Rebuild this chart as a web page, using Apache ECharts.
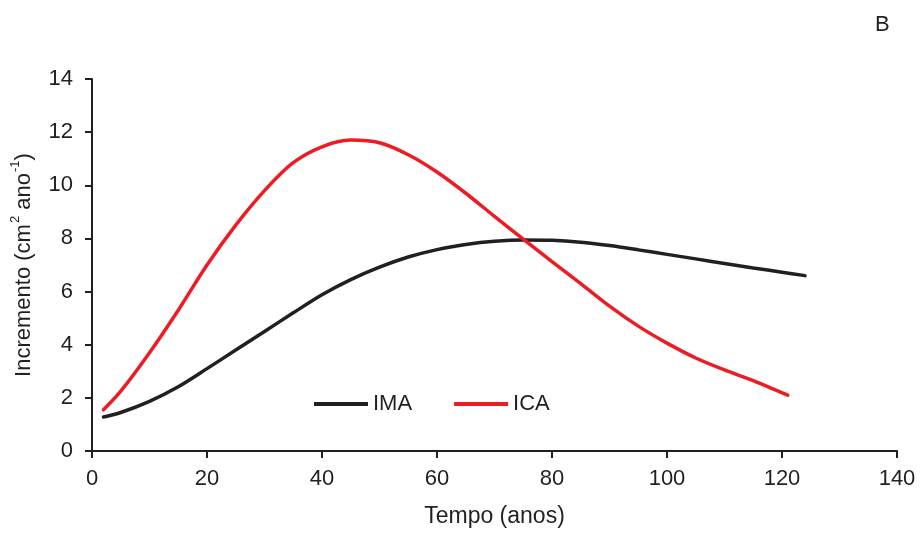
<!DOCTYPE html>
<html>
<head>
<meta charset="utf-8">
<script src="https://cdn.jsdelivr.net/npm/echarts@6/dist/echarts.min.js"></script>
<style>
  html, body { margin: 0; padding: 0; background: #fff; }
  #chart { width: 920px; height: 533px; }
</style>
</head>
<body>
<div id="chart"></div>
<script>
// idade (anos)
const imaX = [2, 5, 10, 15, 20, 25, 30, 35, 40, 45, 50, 55, 60, 65, 70, 75, 80, 85, 90, 95, 100, 105, 110, 115, 120, 124];
const imaY = [1.28, 1.45, 1.87, 2.42, 3.1, 3.8, 4.5, 5.2, 5.88, 6.45, 6.92, 7.3, 7.58, 7.77, 7.89, 7.94, 7.93, 7.86, 7.73, 7.57, 7.4, 7.23, 7.06, 6.89, 6.73, 6.6];

const icaX = [2, 5, 10, 15, 20, 25, 30, 35, 40, 45, 50, 55, 60, 65, 70, 75, 80, 85, 90, 95, 100, 105, 110, 115, 121];
const icaY = [1.55, 2.25, 3.7, 5.3, 7.0, 8.5, 9.8, 10.85, 11.45, 11.7, 11.6, 11.15, 10.5, 9.7, 8.83, 7.97, 7.13, 6.3, 5.45, 4.7, 4.06, 3.5, 3.05, 2.65, 2.1];

const xTicks = [0, 20, 40, 60, 80, 100, 120, 140];
const yTicks = [0, 2, 4, 6, 8, 10, 12, 14];

const toPairs = (xs, ys) => xs.map((x, i) => [x, ys[i]]);

const txt = "#231f20";
const font = "Liberation Sans, Arial, sans-serif";

const myChart = echarts.init(document.getElementById("chart"));
myChart.setOption({
  animation: false,
  textStyle: { fontFamily: font, color: txt },
  grid: { left: 92, right: 23, top: 79, bottom: 82, containLabel: false, outerBoundsMode: "none" },
  graphic: [
    {
      type: "text",
      left: 875,
      top: 14,
      style: { text: "B", font: "22px " + font, fill: txt },
    },
  ],
  legend: {
    left: 309,
    top: 388,
    itemWidth: 54,
    itemHeight: 4,
    itemGap: 42,
    icon: "rect",
    textStyle: { fontSize: 22, color: txt, fontFamily: font },
    data: ["IMA", "ICA"],
  },
  xAxis: {
    type: "value",
    min: 0,
    max: 140,
    interval: 20,
    name: "Tempo (anos)",
    nameLocation: "middle",
    nameGap: 54,
    nameTextStyle: { fontSize: 23, color: txt, fontFamily: font },
    axisLine: { lineStyle: { color: txt, width: 2 } },
    axisTick: { length: 7, lineStyle: { color: txt, width: 2 } },
    axisLabel: {
      fontSize: 22,
      color: txt,
      margin: 17,
      formatter: (v) => (xTicks.includes(v) ? String(v) : ""),
    },
    splitLine: { show: false },
  },
  yAxis: {
    type: "value",
    min: 0,
    max: 14,
    interval: 2,
    name: "{n|Incremento (cm}{s|2}{n| ano}{s|-1}{n|)}",
    nameLocation: "middle",
    nameGap: 57,
    nameRotate: 90,
    nameTextStyle: {
      color: txt,
      fontFamily: font,
      rich: {
        n: { fontSize: 22, color: txt, fontFamily: font, lineHeight: 26, verticalAlign: "bottom" },
        s: { fontSize: 13, color: txt, fontFamily: font, lineHeight: 26, verticalAlign: "top", padding: [0, 0, 0, 1] },
      },
    },
    axisLine: { show: true, lineStyle: { color: txt, width: 2 } },
    axisTick: { show: true, length: 7, lineStyle: { color: txt, width: 2 } },
    axisLabel: {
      fontSize: 22,
      color: txt,
      margin: 19,
      formatter: (v) => (yTicks.includes(v) ? String(v) : ""),
    },
    splitLine: { show: false },
  },
  series: [
    {
      name: "IMA",
      type: "line",
      data: toPairs(imaX, imaY),
      smooth: 0.3,
      showSymbol: false,
      color: "#231f20",
      lineStyle: { color: "#231f20", width: 3.5, cap: "round" },
    },
    {
      name: "ICA",
      type: "line",
      data: toPairs(icaX, icaY),
      smooth: 0.3,
      showSymbol: false,
      color: "#ed1c24",
      lineStyle: { color: "#ed1c24", width: 3.5, cap: "round" },
    },
  ],
});

window.addEventListener("resize", myChart.resize);
</script>
</body>
</html>
